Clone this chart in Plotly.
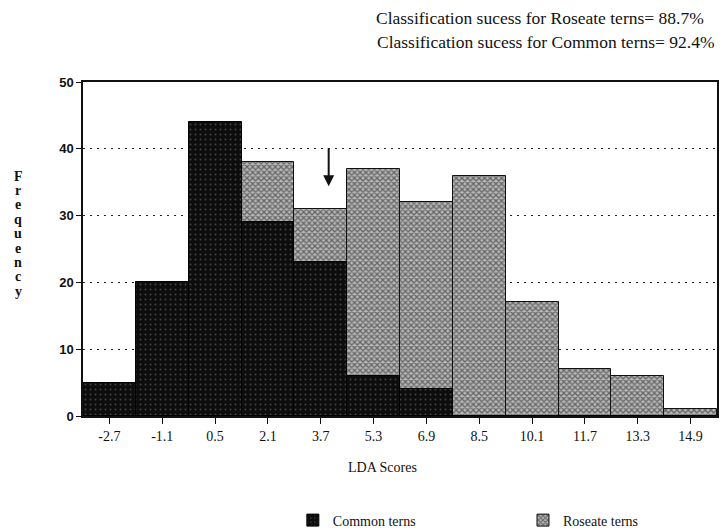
import plotly.graph_objects as go

categories = ["-2.7", "-1.1", "0.5", "2.1", "3.7", "5.3", "6.9", "8.5", "10.1", "11.7", "13.3", "14.9"]
common_terns = [5, 20, 44, 29, 23, 6, 4, 0, 0, 0, 0, 0]
roseate_terns = [0, 0, 0, 38, 31, 37, 32, 36, 17, 7, 6, 1]
y_ticks = [0, 10, 20, 30, 40, 50]
y_title = "Frequency"

serif = "Times New Roman, Liberation Serif, serif"

fig = go.Figure()
fig.add_trace(go.Bar(
    x=categories, y=roseate_terns, name="Roseate terns", legend="legend2",
    marker=dict(color="#9a9a9a", line=dict(color="#111", width=1),
                pattern=dict(shape="x", fgcolor="#111111", bgcolor="#b8b8b8", size=4, solidity=0.55)),
))
fig.add_trace(go.Bar(
    x=categories, y=common_terns, name="Common terns", legend="legend",
    marker=dict(color="#0d0d0d", line=dict(color="#000", width=1),
                pattern=dict(shape=".", fgcolor="#7a7a7a", bgcolor="#0d0d0d", size=5, solidity=0.12)),
))

fig.update_layout(
    width=726, height=532,
    margin=dict(l=83, r=9, t=82, b=116, autoexpand=False),
    paper_bgcolor="white", plot_bgcolor="white",
    barmode="overlay", bargap=0,
    font=dict(family=serif, color="#111", size=13),
    showlegend=True,
    legend=dict(x=0.331, xanchor="left", y=-0.265, yanchor="top",
                font=dict(family=serif, size=14), bgcolor="rgba(0,0,0,0)"),
    legend2=dict(x=0.694, xanchor="left", y=-0.265, yanchor="top",
                 font=dict(family=serif, size=14), bgcolor="rgba(0,0,0,0)"),
)
fig.update_xaxes(
    type="category", categoryorder="array", categoryarray=categories,
    range=[-0.5, 11.5], showline=True, linecolor="#111", linewidth=1.5, mirror=True,
    ticks="outside", ticklen=6, tickcolor="#111", showgrid=False,
    tickfont=dict(family=serif, size=14),
)
fig.update_yaxes(
    range=[0, 50], tickvals=y_ticks, showline=True, linecolor="#111", linewidth=1.5, mirror=True,
    ticks="outside", ticklen=5, tickcolor="#111",
    showgrid=True, gridcolor="#222", griddash="2px,5px", gridwidth=1,
    tickfont=dict(family="Arial, Liberation Sans, sans-serif", size=13, weight="bold"),
    zeroline=False,
)

# x axis title
fig.add_annotation(
    xref="paper", yref="paper", x=0.473, y=-0.153, xanchor="center", yanchor="middle",
    text="LDA Scores", showarrow=False, font=dict(family=serif, size=14),
)

# Frequency label (stacked letters)
plot_h = 532 - 82 - 116
for i, ch in enumerate(y_title):
    py = 176 + i * 14.4
    fig.add_annotation(
        xref="paper", yref="paper", x=-0.1025, y=(416 - py) / plot_h,
        xanchor="center", yanchor="middle", text=ch, showarrow=False,
        font=dict(family=serif, size=14, weight="bold"),
    )

# Arrow marking the division
fig.add_annotation(
    x=4.15, y=34.4, ax=4.15, ay=40.3, xref="x", yref="y", axref="x", ayref="y",
    text="", showarrow=True, arrowhead=2, arrowsize=1.1, arrowwidth=2, arrowcolor="#111",
)

fig.add_annotation(
    xref="paper", yref="paper", x=0.983, y=1.1916, xanchor="right", yanchor="middle",
    text="Classification sucess for Roseate terns= 88.7%", showarrow=False,
    font=dict(family=serif, size=17.5),
)
fig.add_annotation(
    xref="paper", yref="paper", x=0.999, y=1.12, xanchor="right", yanchor="middle",
    text="Classification sucess for Common terns= 92.4%", showarrow=False,
    font=dict(family=serif, size=17.5),
)

fig.write_html("out.html", config={"displayModeBar": False},
               post_script="document.body.style.margin='0';document.body.style.overflow='hidden';")
